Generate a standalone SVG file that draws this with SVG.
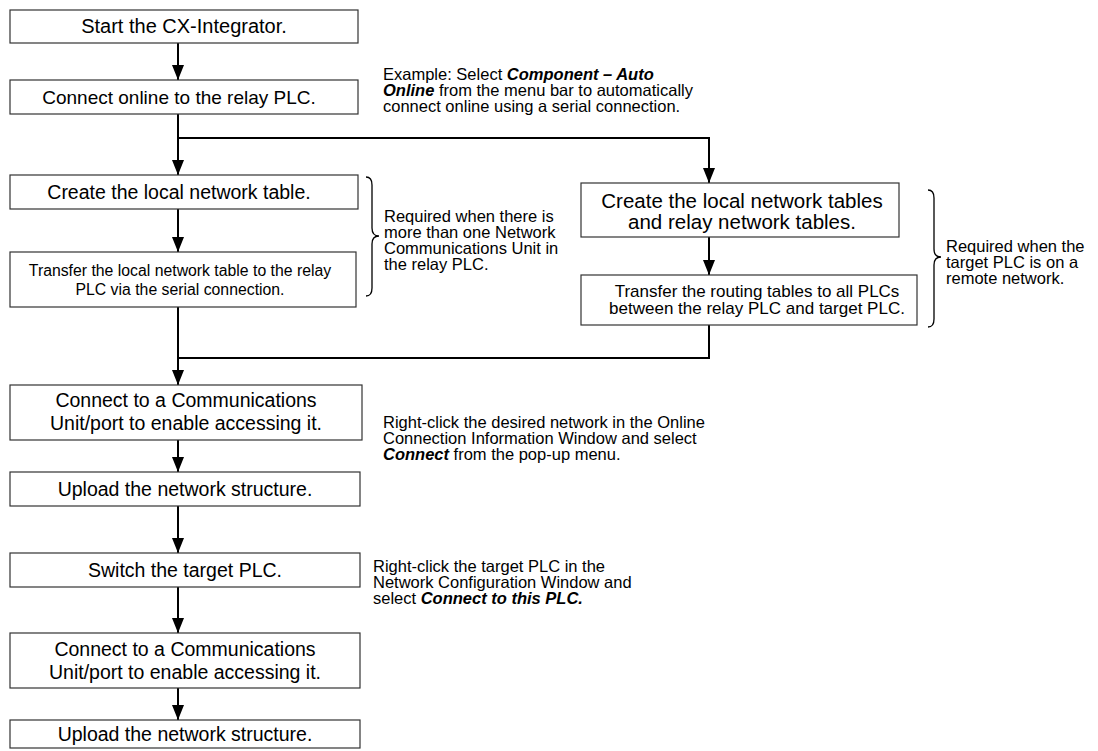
<svg xmlns="http://www.w3.org/2000/svg" width="1098" height="751" viewBox="0 0 1098 751">
<style>
text{font-family:"Liberation Sans",Arial,sans-serif;fill:#000}
.box{fill:#fff;stroke:#333;stroke-width:1.2}
.big{font-size:19.5px;text-anchor:middle}
.sm{font-size:15.8px;text-anchor:middle}
.note{font-size:16.5px}
.bi{font-weight:bold;font-style:italic}
.conn{fill:none;stroke:#000;stroke-width:2}
.brace{fill:none;stroke:#000;stroke-width:1.3}
</style>
<defs>
<marker id="arr" markerUnits="userSpaceOnUse" markerWidth="15" markerHeight="12" viewBox="0 0 15 12" refX="15" refY="6" orient="auto">
<path d="M0,0 L15,6 L0,12 Z" fill="#000"/>
</marker>
</defs>
<g id="connectors">
<path class="conn" d="M178,43 V80" marker-end="url(#arr)"/>
<path class="conn" d="M178,114 V175" marker-end="url(#arr)"/>
<path class="conn" d="M178,138 H709 V183" marker-end="url(#arr)"/>
<path class="conn" d="M178,209 V252" marker-end="url(#arr)"/>
<path class="conn" d="M709,237 V275" marker-end="url(#arr)"/>
<path class="conn" d="M178,307 V385" marker-end="url(#arr)"/>
<path class="conn" d="M709,325 V358 H178"/>
<path class="conn" d="M178,440 V472" marker-end="url(#arr)"/>
<path class="conn" d="M178,506 V553" marker-end="url(#arr)"/>
<path class="conn" d="M178,587 V633" marker-end="url(#arr)"/>
<path class="conn" d="M178,688 V720" marker-end="url(#arr)"/>
</g>
<g id="n1"><rect class="box" x="10" y="10" width="348" height="33"/><text class="big" x="184" y="33" style="font-size:20px">Start the CX-Integrator.</text></g>
<g id="n2"><rect class="box" x="10" y="80" width="348" height="34"/><text class="big" x="179" y="104" style="font-size:19px">Connect online to the relay PLC.</text></g>
<g id="note1"><text class="note" x="383" y="80">Example: Select <tspan class="bi">Component – Auto</tspan></text><text class="note" x="383" y="96"><tspan class="bi">Online</tspan> from the menu bar to automatically</text><text class="note" x="383" y="112">connect online using a serial connection.</text></g>
<g id="n3"><rect class="box" x="10" y="175" width="348" height="34"/><text class="big" x="179" y="199">Create the local network table.</text></g>
<g id="n4"><rect class="box" x="10" y="252" width="346" height="55"/><text class="sm" x="180" y="276">Transfer the local network table to the relay</text><text class="sm" x="180" y="295">PLC via the serial connection.</text></g>
<g id="brace1"><path class="brace" d="M366,177 Q372,177 372,185 V228 Q372,236 379,236 Q372,236 372,244 V288 Q372,296 366,296"/><text class="note" x="384" y="222">Required when there is</text><text class="note" x="384" y="238">more than one Network</text><text class="note" x="384" y="254">Communications Unit in</text><text class="note" x="384" y="270">the relay PLC.</text></g>
<g id="n5"><rect class="box" x="581" y="183" width="318" height="54"/><text class="big" x="742" y="208" style="font-size:20.5px">Create the local network tables</text><text class="big" x="742" y="229" style="font-size:20.5px">and relay network tables.</text></g>
<g id="n6"><rect class="box" x="581" y="275" width="336" height="50"/><text class="sm" x="757" y="297" style="font-size:17px">Transfer the routing tables to all PLCs</text><text class="sm" x="757" y="314" style="font-size:17px">between the relay PLC and target PLC.</text></g>
<g id="brace2"><path class="brace" d="M928,190 Q934,190 934,198 V249 Q934,257 941,257 Q934,257 934,265 V319 Q934,327 928,327"/><text class="note" x="946" y="252">Required when the</text><text class="note" x="946" y="268">target PLC is on a</text><text class="note" x="946" y="284">remote network.</text></g>
<g id="n7"><rect class="box" x="10" y="385" width="352" height="55"/><text class="big" x="186" y="407">Connect to a Communications</text><text class="big" x="186" y="430">Unit/port to enable accessing it.</text></g>
<g id="note2"><text class="note" x="383" y="428">Right-click the desired network in the Online</text><text class="note" x="383" y="444">Connection Information Window and select</text><text class="note" x="383" y="460"><tspan class="bi">Connect</tspan> from the pop-up menu.</text></g>
<g id="n8"><rect class="box" x="10" y="472" width="350" height="34"/><text class="big" x="185" y="496">Upload the network structure.</text></g>
<g id="n9"><rect class="box" x="10" y="553" width="350" height="34"/><text class="big" x="185" y="577">Switch the target PLC.</text></g>
<g id="note3"><text class="note" x="373" y="572">Right-click the target PLC in the</text><text class="note" x="373" y="588">Network Configuration Window and</text><text class="note" x="373" y="604">select <tspan class="bi">Connect to this PLC.</tspan></text></g>
<g id="n10"><rect class="box" x="10" y="633" width="350" height="55"/><text class="big" x="185" y="656">Connect to a Communications</text><text class="big" x="185" y="679">Unit/port to enable accessing it.</text></g>
<g id="n11"><rect class="box" x="10" y="720" width="350" height="28"/><text class="big" x="185" y="741">Upload the network structure.</text></g>
</svg>
